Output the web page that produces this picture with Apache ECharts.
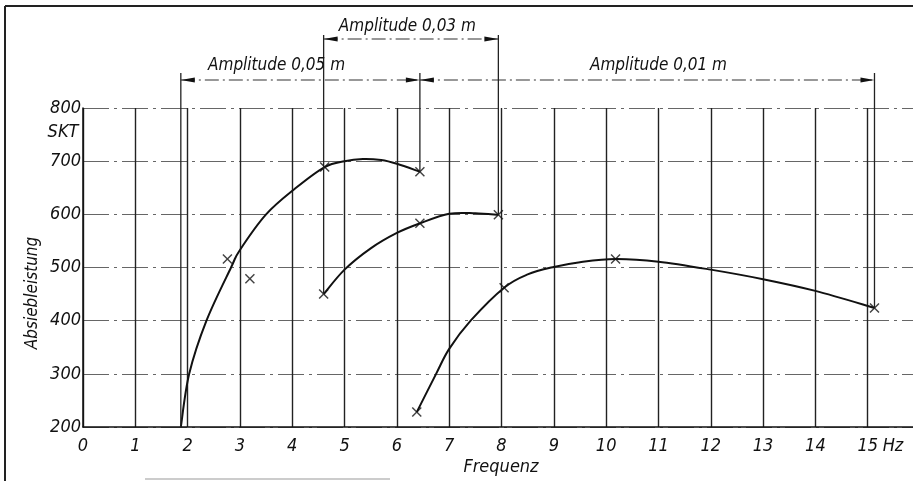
<!DOCTYPE html>
<html>
<head>
<meta charset="utf-8">
<script src="https://cdn.jsdelivr.net/npm/echarts@6/dist/echarts.min.js"></script>
<style>
  html, body { margin: 0; padding: 0; background: #fff; }
  #chart { width: 913px; height: 481px; }
</style>
</head>
<body>
<div id="chart"></div>
<script>
// Absiebleistung (SKT) ueber Frequenz (Hz), je Amplitude
const curve05 = [[1.87, 200], [2.03, 300], [2.36, 400], [2.83, 500], [3.0, 533], [3.5, 600], [4.06, 649], [4.62, 689], [5.0, 700], [5.35, 704], [5.7, 702], [6.0, 695], [6.44, 680]]
const curve03 = [[4.6, 450], [5.0, 496], [5.5, 536], [6.0, 565], [6.44, 583], [7.0, 601], [7.5, 602], [7.94, 599]]
const curve01 = [[6.38, 228], [6.75, 300], [7.0, 347], [7.41, 400], [8.05, 462], [8.5, 487], [9.0, 501], [9.5, 510], [10.18, 516], [11, 511], [12, 496], [13, 478], [14, 456], [15.13, 424]]

// Messpunkte (x)
const marks05 = [[4.62, 689], [6.44, 680]]
const marksLoose = [[2.76, 516], [3.19, 479]]
const marks03 = [[4.6, 450], [6.44, 583], [7.94, 599]]
const marks01 = [[6.38, 228], [8.05, 462], [10.18, 516], [15.13, 424]]

// Amplituden-Bereiche
const ampLabels = ['Amplitude 0,05 m', 'Amplitude 0,03 m', 'Amplitude 0,01 m']
const ampFrom = [1.87, 4.6, 6.44]
const ampTo = [6.44, 7.94, 15.13]
// Hilfslinien: Frequenz und Endwert der Kurve
const leaderX = [1.87, 4.6, 6.44, 7.94, 15.13]
const leaderY = [200, 450, 680, 599, 424]

const font = '"DejaVu Sans Condensed", "DejaVu Sans", sans-serif'
const ink = '#111'
const crossPath = 'path://M0,1L1,0L5,4L9,0L10,1L6,5L10,9L9,10L5,6L1,10L0,9L4,5Z'

const myChart = echarts.init(document.getElementById('chart'))

// glatte Kurve (Catmull-Rom) durch die Stuetzpunkte, Pixel ueber api.coord
const curveSeries = (data) => ({
  type: 'custom',
  data: data,
  encode: { x: 0, y: 1 },
  z: 3,
  renderItem: (params, api) => {
    if (params.dataIndex !== 0) return null
    const p = data.map(d => api.coord(d))
    let path = 'M' + p[0][0] + ',' + p[0][1]
    for (let i = 0; i < p.length - 1; i++) {
      const p0 = p[Math.max(i - 1, 0)]
      const p1 = p[i]
      const p2 = p[i + 1]
      const p3 = p[Math.min(i + 2, p.length - 1)]
      const c1x = p1[0] + (p2[0] - p0[0]) / 6
      const c1y = p1[1] + (p2[1] - p0[1]) / 6
      const c2x = p2[0] - (p3[0] - p1[0]) / 6
      const c2y = p2[1] - (p3[1] - p1[1]) / 6
      path += 'C' + c1x + ',' + c1y + ',' + c2x + ',' + c2y + ',' + p2[0] + ',' + p2[1]
    }
    return {
      type: 'path',
      shape: { pathData: path },
      style: { stroke: ink, lineWidth: 2, fill: 'none' }
    }
  }
})

const option = {
  animation: false,
  grid: { left: 83, right: -7, top: 108, bottom: 54, outerBoundsMode: 'none' },
  xAxis: {
    type: 'value',
    min: 0,
    max: 16,
    interval: 1,
    axisLine: { show: true, lineStyle: { color: ink, width: 1.5 } },
    axisTick: { show: false },
    axisLabel: {
      color: ink,
      fontFamily: font,
      fontStyle: 'italic',
      fontSize: 18,
      margin: 10,
      showMaxLabel: false
    },
    splitLine: { show: true, lineStyle: { color: '#222', width: 1.4 } }
  },
  yAxis: {
    type: 'value',
    min: 200,
    max: 800,
    interval: 100,
    axisLine: { show: true, lineStyle: { color: ink, width: 1.5 } },
    axisTick: { show: false },
    axisLabel: {
      color: ink,
      fontFamily: font,
      fontStyle: 'italic',
      fontSize: 18,
      margin: 2
    },
    splitLine: { show: true, lineStyle: { color: '#666', width: 1.1, type: [26, 5, 3, 5] } }
  },
  series: [
    curveSeries(curve05),
    curveSeries(curve03),
    curveSeries(curve01),
    {
      type: 'scatter',
      data: [].concat(marks05, marksLoose, marks03, marks01),
      symbol: crossPath,
      symbolSize: 10,
      itemStyle: { color: ink },
      z: 4
    }
  ]
}

myChart.setOption(option)

// Beschriftung und Bemassung ueber dem Diagramm
const px = (x) => myChart.convertToPixel({ xAxisIndex: 0 }, x)
const py = (y) => myChart.convertToPixel({ yAxisIndex: 0 }, y)

const rowY = [80, 39, 80]
const labelAt = [3.7, 6.2, 11.0]
const labelY = [66, 27, 66]
const dash = { stroke: '#333', lineWidth: 1.2, lineDash: [14, 4, 2, 4] }
const graphics = []

const textEl = (text, x, y, size) => ({
  type: 'text',
  x: x,
  y: y,
  style: {
    text: text,
    x: 0,
    y: 0,
    fill: ink,
    font: 'italic ' + size + 'px ' + font,
    align: 'center',
    verticalAlign: 'middle'
  },
  z: 10
})

const arrow = (x, y, dir) => ({
  type: 'polygon',
  shape: { points: [[x, y], [x - dir * 14, y - 2.6], [x - dir * 14, y + 2.6]] },
  style: { fill: ink },
  z: 10
})

ampLabels.forEach((label, i) => {
  const x1 = px(ampFrom[i])
  const x2 = px(ampTo[i])
  const y = rowY[i]
  graphics.push({ type: 'line', shape: { x1: x1, y1: y, x2: x2, y2: y }, style: dash, z: 9 })
  graphics.push(arrow(x1, y, -1))
  graphics.push(arrow(x2, y, 1))
  graphics.push(textEl(label, px(labelAt[i]), labelY[i], 17))
})

leaderX.forEach((f, i) => {
  const top = (f === 4.6 || f === 7.94) ? 35 : 73
  graphics.push({
    type: 'line',
    shape: { x1: px(f), y1: top, x2: px(f), y2: py(leaderY[i]) },
    style: { stroke: '#222', lineWidth: 1.3 },
    z: 9
  })
})

// Achsbeschriftungen
graphics.push(textEl('SKT', 63, 132, 18))
graphics.push(textEl('Hz', 893, 446, 18))
graphics.push(textEl('Frequenz', 501, 467, 18))
const yName = textEl('Absiebleistung', 33, 293, 17)
yName.rotation = Math.PI / 2
graphics.push(yName)

// Rahmen
graphics.push({ type: 'line', shape: { x1: 5, y1: 6, x2: 913, y2: 6 }, style: { stroke: '#222', lineWidth: 2 }, z: 8 })
graphics.push({ type: 'line', shape: { x1: 5, y1: 6, x2: 5, y2: 481 }, style: { stroke: '#222', lineWidth: 2 }, z: 8 })
graphics.push({ type: 'line', shape: { x1: 145, y1: 479, x2: 390, y2: 479 }, style: { stroke: '#bbb', lineWidth: 1.5 }, z: 8 })

myChart.setOption({ graphic: graphics })
</script>
</body>
</html>
